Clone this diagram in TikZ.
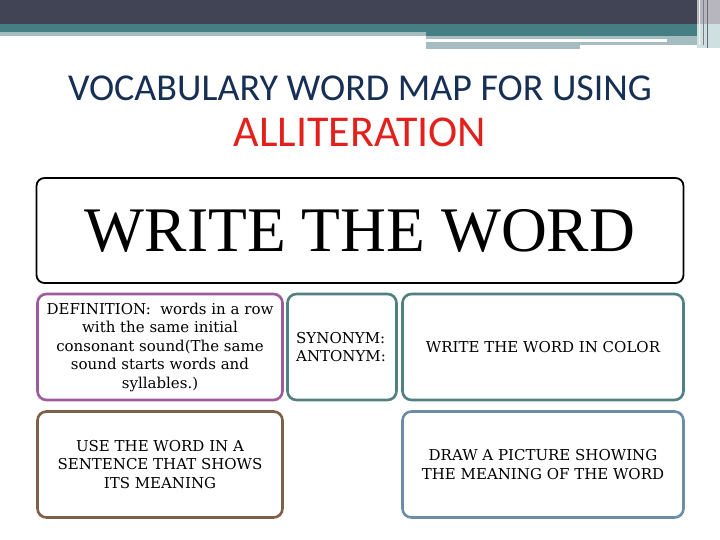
\documentclass[tikz,border=0pt]{standalone}
\usepackage{fontspec}
\setmainfont{Liberation Serif}
\newfontfamily\titlefont{Carlito}
\newfontfamily\cardfont{DejaVu Serif}
\definecolor{hdark}{HTML}{414455}
\definecolor{hteal}{HTML}{457F84}
\definecolor{hlight}{HTML}{A5BDC0}
\definecolor{hgray}{HTML}{B7B6BF}
\definecolor{hpale}{HTML}{CFE0E1}
\definecolor{tnavy}{HTML}{162F55}
\definecolor{tred}{HTML}{E3211C}
\definecolor{cpurple}{HTML}{9E5A9C}
\definecolor{cteal}{HTML}{527F80}
\definecolor{cbrown}{HTML}{7E6048}
\definecolor{cblue}{HTML}{6C8DA6}
\tikzset{
  cardbox/.style={draw, line width=2.6pt, rounded corners=9pt, inner sep=0pt, align=center,
    font=\cardfont\fontsize{15}{18.5}\selectfont},
  titletext/.style={font=\titlefont\fontsize{38}{40}\selectfont, inner sep=0pt}
}
\begin{document}
\begin{tikzpicture}[x=1pt,y=-1pt]
\useasboundingbox (0,0) rectangle (720,540);
% header bands
\fill[hdark] (0,0) rectangle (720,24);
\fill[hteal] (0,24) rectangle (720,32);
\fill[hlight] (0,32) rectangle (426,36);
\fill[hteal] (426,32) rectangle (707,36);
\fill[hlight] (426,36) rectangle (667,39);
\fill[hlight] (426,42) rectangle (580,49);
\fill[hlight] (580,42) rectangle (707,45);
\fill[hlight] (667,36) rectangle (707,45);
\fill[hgray] (697,0) rectangle (720,24);
\fill[hpale] (697,24) rectangle (720,48);
\draw[white!80!hgray, line width=1pt] (699,0) -- (699,45);
\draw[hdark!70!white, line width=0.8pt] (703,0) -- (703,45);
\draw[hdark!80!white, line width=1pt] (707,0) -- (707,48);
% title
\node[titletext, text=tnavy] (t1) at (360,88) {VOCABULARY WORD MAP FOR USING};
\node[titletext, text=tred, font=\titlefont\fontsize{44}{46}\selectfont] (t2) at (360,132.5) {ALLITERATION};
% main word box
\node[draw, line width=1.8pt, rounded corners=8pt, minimum width=647pt, minimum height=105pt,
  inner sep=0pt, font=\fontsize{63.5}{66}\selectfont] (word) at (360,230.5) {WRITE THE WORD};
% cards
\node[cardbox, draw=cpurple, minimum width=245pt, minimum height=106pt] (def) at (160,347)
  {DEFINITION:\ \ words in a row\\ with the same initial\\ consonant sound(The same\\ sound starts words and\\ syllables.)};
\node[cardbox, draw=cteal, minimum width=109pt, minimum height=106pt] (syn) at (342,347) {};
\node[align=left, inner sep=0pt, font=\cardfont\fontsize{15}{18.5}\selectfont, anchor=west] (syntext) at (296,347)
  {SYNONYM:\\ ANTONYM:};
\node[cardbox, draw=cteal, minimum width=281pt, minimum height=106pt] (color) at (543,347)
  {WRITE THE WORD IN COLOR};
\node[cardbox, draw=cbrown, minimum width=245pt, minimum height=106pt] (use) at (160,464.5)
  {USE THE WORD IN A\\ SENTENCE THAT SHOWS\\ ITS MEANING};
\node[cardbox, draw=cblue, minimum width=281pt, minimum height=106pt] (pic) at (543,464.5)
  {DRAW A PICTURE SHOWING\\ THE MEANING OF THE WORD};
\end{tikzpicture}
\end{document}
